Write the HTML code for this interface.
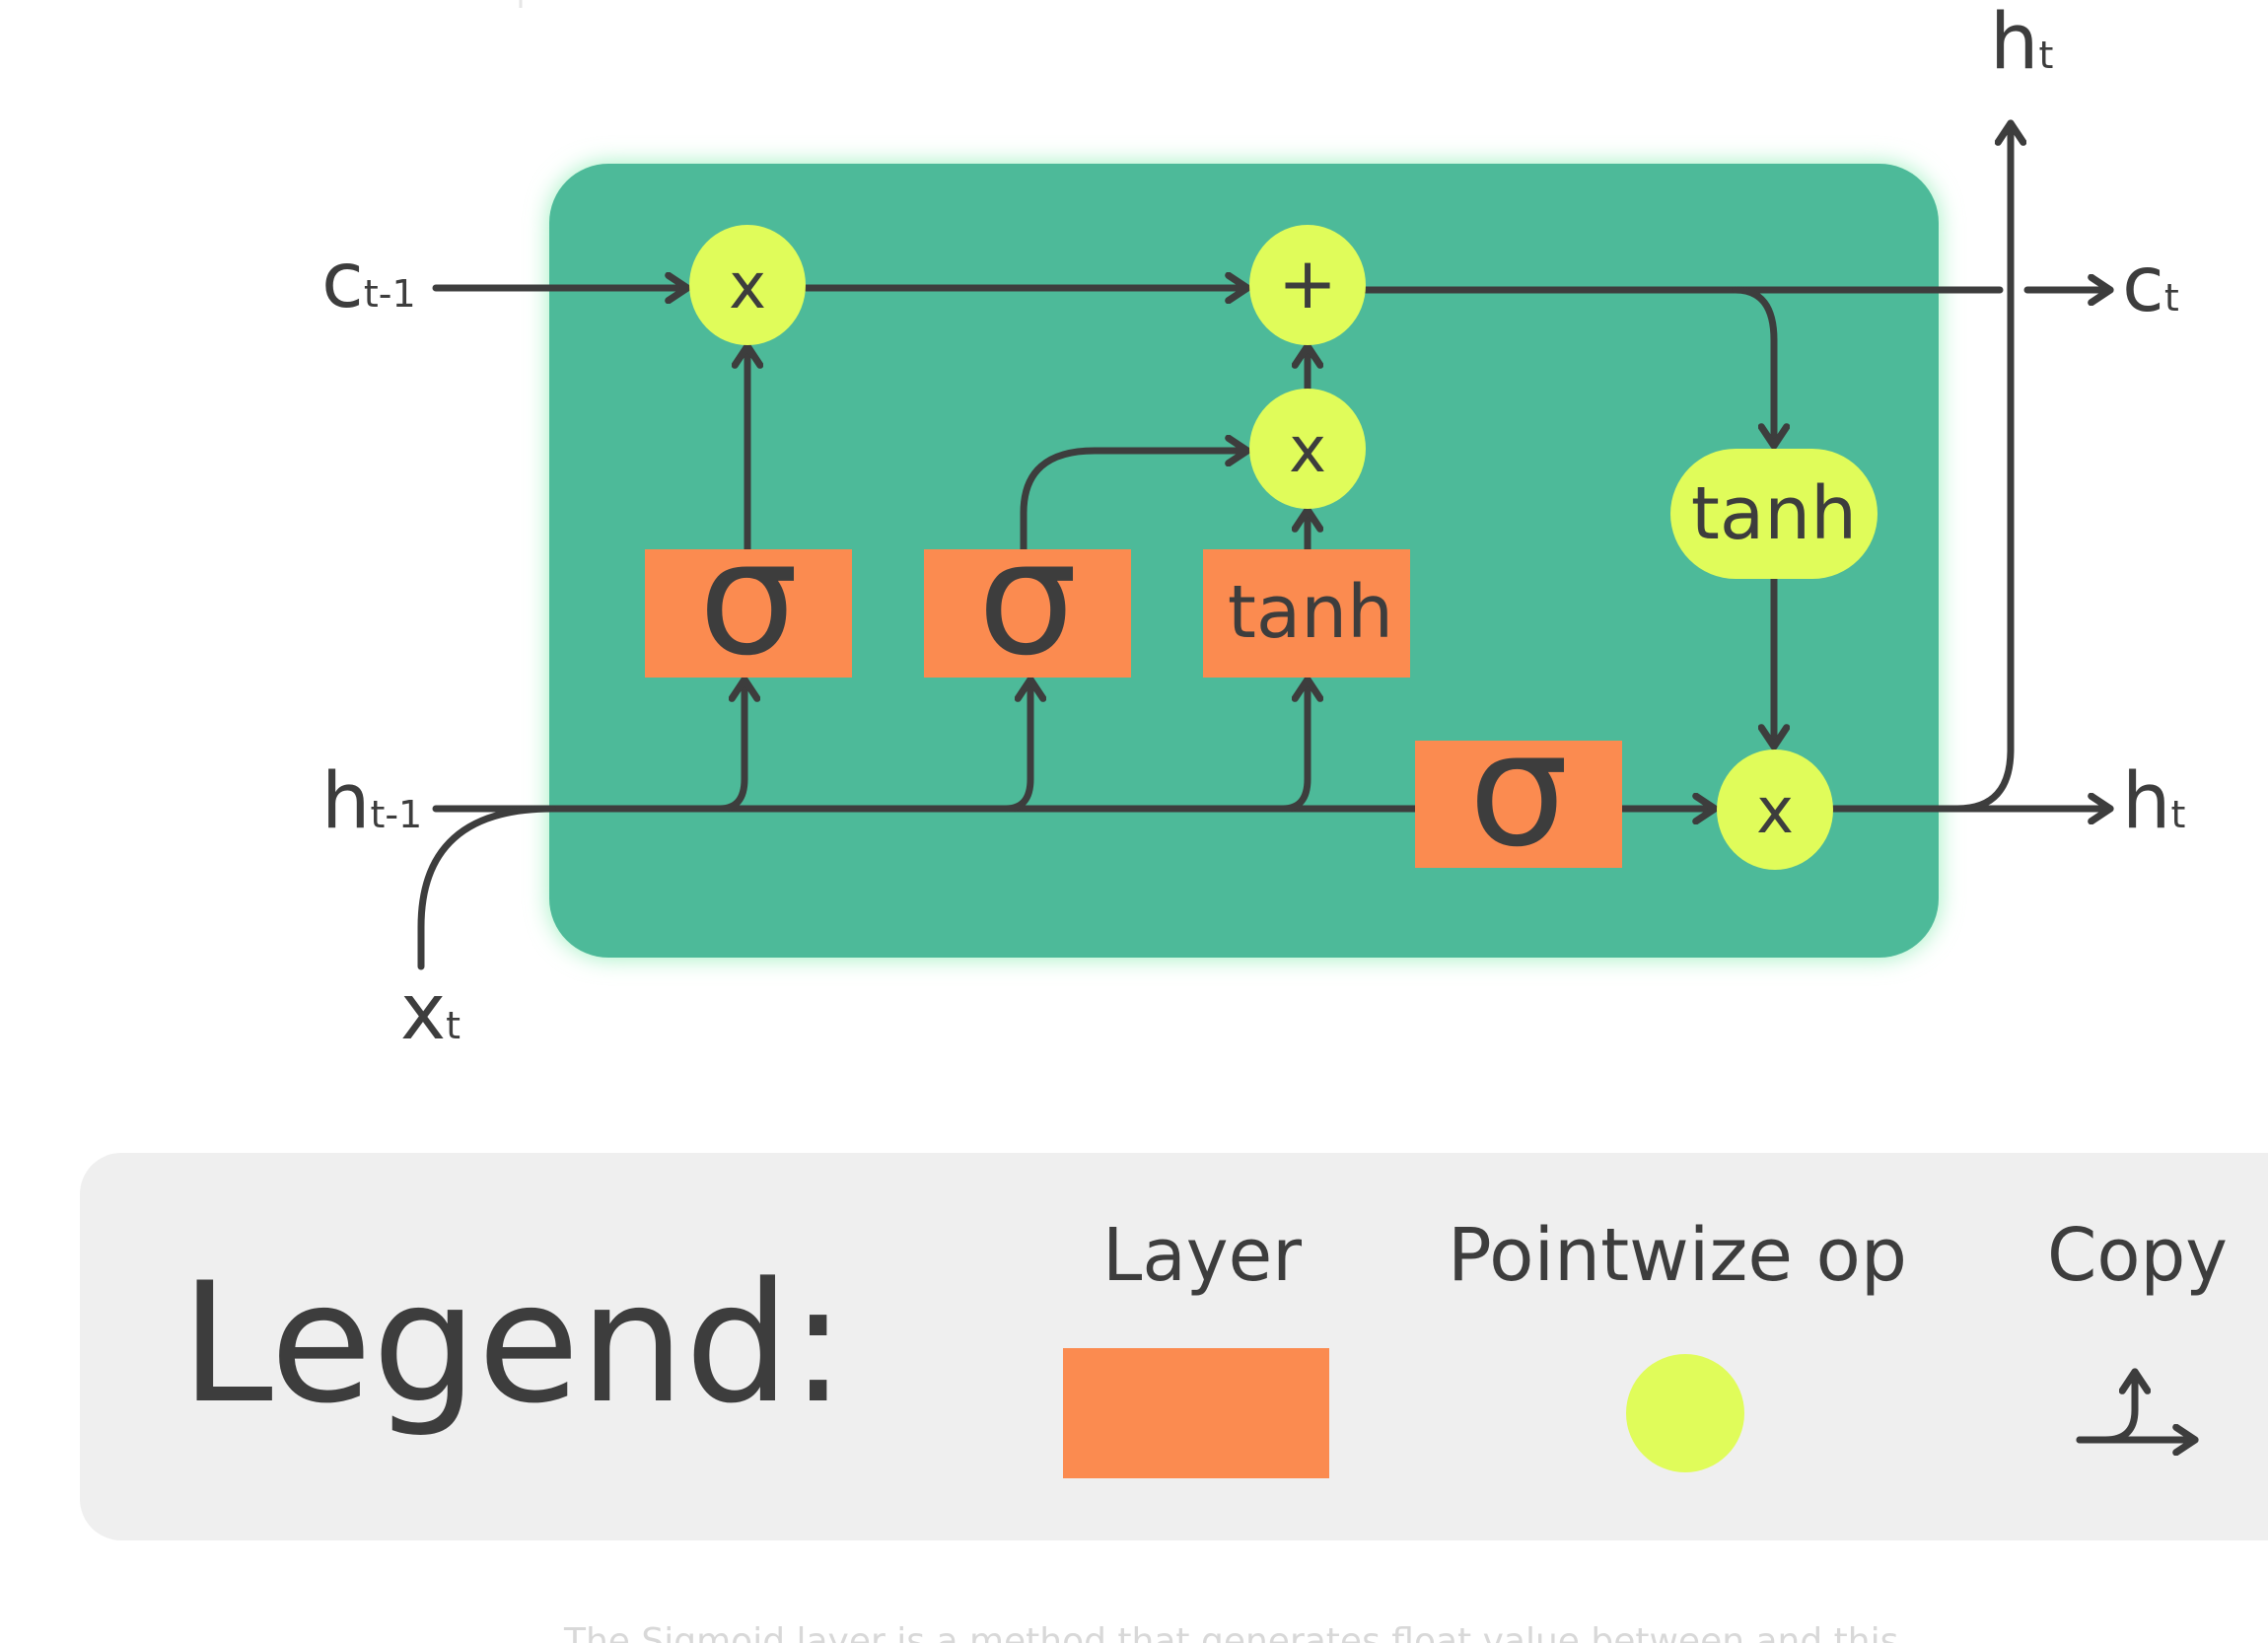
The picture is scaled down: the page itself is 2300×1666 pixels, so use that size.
<!DOCTYPE html>
<html><head><meta charset="utf-8"><style>
html,body{margin:0;padding:0;background:#fff;width:2300px;height:1666px;overflow:hidden}
svg{display:block}
text{font-family:"DejaVu Sans","Liberation Sans",sans-serif;fill:#3d3d3d}
</style></head><body>
<svg width="2300" height="1666" viewBox="0 0 2300 1666" xmlns="http://www.w3.org/2000/svg">
<defs>
<filter id="glow" x="-10%" y="-10%" width="120%" height="120%"><feGaussianBlur stdDeviation="12"/></filter>
<marker id="ar" viewBox="0 0 20 20" refX="17" refY="10" markerWidth="32" markerHeight="32" markerUnits="userSpaceOnUse" orient="auto">
<path d="M5 2 L17 10 L5 18" fill="none" stroke="#3d3d3d" stroke-width="4.5" stroke-linecap="round" stroke-linejoin="round"/></marker>
</defs>
<line x1="528" y1="0" x2="528" y2="8" stroke="#e6e6e6" stroke-width="3"/>
<rect x="557" y="166" width="1409" height="805" rx="60" fill="#9ef0c0" filter="url(#glow)"/>
<rect x="557" y="166" width="1409" height="805" rx="60" fill="#4dba99"/>
<g fill="none" stroke="#3d3d3d" stroke-width="7" stroke-linecap="round">
<line x1="442" y1="292" x2="697" y2="292" marker-end="url(#ar)"/>
<line x1="817" y1="292" x2="1265" y2="292" marker-end="url(#ar)"/>
<path d="M1385 294 L2028 294"/>
<line x1="2056" y1="294" x2="2140" y2="294" marker-end="url(#ar)"/>
<path d="M1760 294 Q1799 294 1799 345 L1799 452" marker-end="url(#ar)"/>
<line x1="1799" y1="587" x2="1799" y2="757" marker-end="url(#ar)"/>
<line x1="442" y1="820" x2="1435" y2="820"/>
<line x1="1645" y1="820" x2="1739" y2="820" marker-end="url(#ar)"/>
<path d="M1859 820 L2140 820" marker-end="url(#ar)"/>
<path d="M1985 820 Q2039 820 2039 760 L2039 125" marker-end="url(#ar)"/>
<path d="M427 980 L427 940 Q427 820 560 820"/>
<path d="M730 820 Q755 820 755 790 L755 689" marker-end="url(#ar)"/>
<path d="M1020 820 Q1045 820 1045 790 L1045 689" marker-end="url(#ar)"/>
<path d="M1301 820 Q1326 820 1326 790 L1326 689" marker-end="url(#ar)"/>
<line x1="758" y1="557" x2="758" y2="351" marker-end="url(#ar)"/>
<path d="M1038 557 L1038 520 Q1038 457 1110 457 L1265 457" marker-end="url(#ar)"/>
<line x1="1326" y1="557" x2="1326" y2="517" marker-end="url(#ar)"/>
<line x1="1326" y1="395" x2="1326" y2="351" marker-end="url(#ar)"/>
</g>
<g fill="#e0fc5a">
<ellipse cx="758" cy="289" rx="59" ry="61"/>
<ellipse cx="1326" cy="289" rx="59" ry="61"/>
<ellipse cx="1326" cy="455" rx="59" ry="61"/>
<ellipse cx="1800" cy="821" rx="59" ry="61"/>
<rect x="1694" y="455" width="210" height="132" rx="66"/>
</g>
<g fill="#fb8b50">
<rect x="654" y="557" width="210" height="130"/>
<rect x="937" y="557" width="210" height="130"/>
<rect x="1220" y="557" width="210" height="130"/>
<rect x="1435" y="751" width="210" height="129"/>
</g>
<g text-anchor="middle">
<text x="758" y="312" font-size="64">x</text>
<text x="1326" y="312" font-size="72">+</text>
<text x="1326" y="478" font-size="64">x</text>
<text x="1800" y="844" font-size="64">x</text>
<text x="1799" y="546" font-size="74">tanh</text>
<text x="1329" y="646" font-size="74">tanh</text>
<text x="759" y="662" font-size="160">σ</text>
<text x="1042" y="662" font-size="160">σ</text>
<text x="1540" y="856" font-size="160">σ</text>
</g>
<text x="326" y="311" font-size="78">c<tspan font-size="38">t-1</tspan></text>
<text x="326" y="839" font-size="78">h<tspan font-size="38">t-1</tspan></text>
<text x="406" y="1053" font-size="78">x<tspan font-size="38">t</tspan></text>
<text x="2018" y="69" font-size="78">h<tspan font-size="38">t</tspan></text>
<text x="2152" y="315" font-size="78">c<tspan font-size="38">t</tspan></text>
<text x="2152" y="839" font-size="78">h<tspan font-size="38">t</tspan></text>
<rect x="81" y="1169" width="2300" height="393" rx="42" fill="#efefef"/>
<text x="183" y="1420" font-size="168" textLength="675" lengthAdjust="spacingAndGlyphs">Legend:</text>
<text x="1118" y="1298" font-size="74" textLength="202" lengthAdjust="spacingAndGlyphs">Layer</text>
<text x="1468" y="1298" font-size="74" textLength="466" lengthAdjust="spacingAndGlyphs">Pointwize op</text>
<text x="2076" y="1298" font-size="74" textLength="183" lengthAdjust="spacingAndGlyphs">Copy</text>
<rect x="1078" y="1367" width="270" height="132" fill="#fb8b50"/>
<circle cx="1709" cy="1433" r="60" fill="#e0fc5a"/>
<g fill="none" stroke="#3d3d3d" stroke-width="7" stroke-linecap="round">
<line x1="2109" y1="1460" x2="2226" y2="1460" marker-end="url(#ar)"/>
<path d="M2109 1460 L2135 1460 Q2165 1460 2165 1430 L2165 1391" marker-end="url(#ar)"/>
</g>
<text x="572" y="1676" font-size="36" style="fill:#d8d8d8" font-family="Liberation Serif,serif">The Sigmoid layer is a method that generates float value between and this</text>
</svg>
</body></html>
